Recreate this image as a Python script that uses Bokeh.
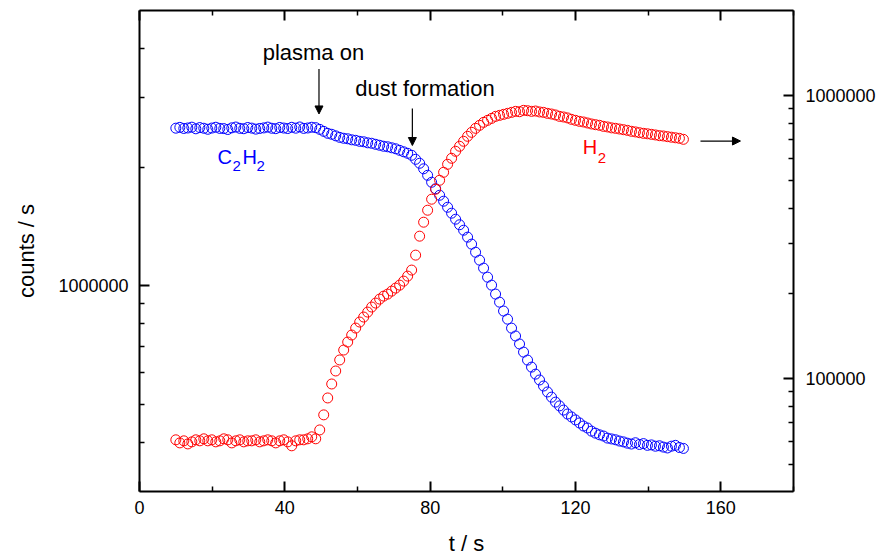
import numpy as np
from bokeh.plotting import figure
from bokeh.models import (Range1d, LogScale, LogAxis, LinearAxis, FixedTicker,
                          PrintfTickFormatter, CustomJSTickFormatter, Label, Arrow,
                          NormalHead, ColumnDataSource)
from bokeh.embed import file_html
from bokeh.resources import INLINE

# ---------------- data ----------------
t_s = [10.0, 11.1, 12.2, 13.3, 14.4, 15.5, 16.6, 17.7, 18.8, 19.9,
       21.0, 22.1, 23.2, 24.3, 25.4, 26.5, 27.6, 28.7, 29.8, 30.9,
       32.0, 33.1, 34.2, 35.3, 36.4, 37.5, 38.6, 39.7, 40.8, 41.9,
       43.0, 44.1, 45.2, 46.3, 47.4, 48.5, 49.6, 50.7, 51.8, 52.9,
       54.0, 55.1, 56.2, 57.3, 58.4, 59.5, 60.6, 61.7, 62.8, 63.9,
       65.0, 66.1, 67.2, 68.3, 69.4, 70.5, 71.6, 72.7, 73.8, 74.9,
       76.0, 77.1, 78.2, 79.3, 80.4, 81.5, 82.6, 83.7, 84.8, 85.9,
       87.0, 88.1, 89.2, 90.3, 91.4, 92.5, 93.6, 94.7, 95.8, 96.9,
       98.0, 99.1, 100.2, 101.3, 102.4, 103.5, 104.6, 105.7, 106.8, 107.9,
       109.0, 110.1, 111.2, 112.3, 113.4, 114.5, 115.6, 116.7, 117.8, 118.9,
       120.0, 121.1, 122.2, 123.3, 124.4, 125.5, 126.6, 127.7, 128.8, 129.9,
       131.0, 132.1, 133.2, 134.3, 135.4, 136.5, 137.6, 138.7, 139.8, 140.9,
       142.0, 143.1, 144.2, 145.3, 146.4, 147.5, 148.6, 149.7]

# C2H2 signal, thousands of counts / s (left axis)
c2h2_kcounts = [2512, 2524, 2508, 2515, 2527, 2503, 2521, 2511, 2496, 2514,
                2526, 2509, 2506, 2493, 2517, 2529, 2510, 2504, 2522, 2513,
                2498, 2508, 2516, 2528, 2511, 2505, 2523, 2514, 2507, 2525,
                2512, 2530, 2509, 2515, 2526, 2520, 2495, 2466, 2438, 2424,
                2402, 2381, 2368, 2361, 2347, 2340, 2326, 2320, 2306, 2300,
                2286, 2273, 2260, 2253, 2240, 2227, 2207, 2188, 2169, 2144,
                2094, 2046, 1981, 1907, 1831, 1763, 1697, 1639, 1582, 1528,
                1475, 1428, 1383, 1328, 1275, 1216, 1161, 1108, 1051, 1003,
                952, 908, 862, 822, 780, 745, 711, 678, 647, 621,
                596, 576, 556, 537, 521, 506, 495, 483, 472, 464,
                456, 448, 440, 435, 427, 422, 418, 415, 410, 408,
                406, 403, 401, 398, 396, 399, 395, 397, 393, 394,
                391, 392, 389, 387, 391, 393, 388, 386]

# H2 signal, thousands of counts / s (right axis)
h2_kcounts = [60.9, 59.4, 60.4, 58.9, 59.9, 60.9, 60.4, 61.4, 60.4, 60.9,
              59.9, 60.4, 61.4, 60.9, 59.4, 60.4, 60.9, 59.9, 60.4, 60.4,
              60.9, 59.9, 60.4, 60.9, 60.4, 59.4, 60.4, 60.9, 59.9, 58.0,
              60.4, 60.9, 60.9, 61.4, 62.4, 61.4, 66.0, 74.6, 85.6, 95.9,
              106.6, 116.6, 126.4, 134.9, 142.8, 151.1, 158.7, 165.3, 172.1, 179.3,
              185.2, 191.3, 196.0, 199.2, 204.1, 209.2, 214.3, 221.4, 230.6, 242.2,
              273.5, 319.1, 357.5, 394.1, 431.0, 467.4, 502.8, 536.6, 572.7, 601.2,
              636.4, 662.9, 690.3, 718.9, 742.6, 767.2, 786.2, 805.4, 818.6, 831.8,
              845.6, 852.4, 859.5, 866.5, 873.5, 880.6, 878.0, 887.9, 885.2, 880.6,
              883.1, 876.4, 873.5, 866.5, 861.8, 855.2, 845.6, 841.3, 834.9, 825.2,
              818.6, 811.9, 807.7, 801.2, 794.8, 790.1, 786.2, 779.5, 775.8, 770.1,
              767.2, 762.9, 758.6, 754.6, 748.7, 745.0, 740.3, 736.5, 733.8, 730.6,
              726.9, 722.5, 720.8, 716.9, 713.7, 710.4, 707.3, 701.5]

x_major_ticks = [0, 40, 80, 120, 160]
x_minor_ticks = [20, 60, 100, 140, 180]
left_major_ticks = [1e6]
left_minor_ticks = [4e5, 5e5, 6e5, 7e5, 8e5, 9e5, 2e6, 3e6, 4e6]
right_major_ticks = [1e5, 1e6]
right_minor_ticks = [5e4, 6e4, 7e4, 8e4, 9e4, 2e5, 3e5, 4e5, 5e5, 6e5, 7e5, 8e5, 9e5]

# ---------------- figure ----------------
FONT = "Liberation Sans"

p = figure(width=892, height=558, title=None,
           x_range=Range1d(0, 180), y_range=Range1d(3e5, 5e6),
           y_axis_type="log", output_backend="svg", toolbar_location=None,
           min_border_left=139, min_border_right=99,
           min_border_top=10, min_border_bottom=66)
p.background_fill_color = "white"
p.border_fill_color = "white"
p.outline_line_color = None
p.xgrid.visible = False
p.ygrid.visible = False

p.extra_y_ranges = {"right": Range1d(4e4, 2e6)}
p.extra_y_scales = {"right": LogScale()}


def style_axis(ax):
    ax.axis_line_width = 2
    ax.axis_line_color = "black"
    ax.major_tick_in = 10
    ax.major_tick_out = 0
    ax.minor_tick_in = 5
    ax.minor_tick_out = 0
    ax.major_tick_line_width = 2
    ax.minor_tick_line_width = 1.5
    ax.major_tick_line_color = "black"
    ax.minor_tick_line_color = "black"
    ax.major_label_text_font = FONT
    ax.major_label_text_font_size = "18px"
    ax.major_label_text_color = "black"
    ax.axis_label_text_font = FONT
    ax.axis_label_text_font_size = "22px"
    ax.axis_label_text_font_style = "normal"
    ax.axis_label_text_color = "black"


xax = p.xaxis[0]
xax.ticker = FixedTicker(ticks=x_major_ticks, minor_ticks=x_minor_ticks)
xax.axis_label = "t / s"
style_axis(xax)
xax.major_label_standoff = 9
xax.axis_label_standoff = 14

yax = p.yaxis[0]
yax.ticker = FixedTicker(ticks=left_major_ticks, minor_ticks=left_minor_ticks)
yax.formatter = PrintfTickFormatter(format="%d")
yax.axis_label = "counts / s"
style_axis(yax)
yax.major_label_standoff = 11
yax.axis_label_standoff = 16

rax = LogAxis(y_range_name="right",
              ticker=FixedTicker(ticks=right_major_ticks, minor_ticks=right_minor_ticks),
              formatter=PrintfTickFormatter(format="%d"))
style_axis(rax)
rax.major_label_standoff = 12
p.add_layout(rax, "right")

# top frame edge with inward ticks, no labels
tax = LinearAxis(ticker=FixedTicker(ticks=x_major_ticks, minor_ticks=x_minor_ticks),
                 formatter=CustomJSTickFormatter(code="return '';"))
style_axis(tax)
tax.major_label_standoff = 0
p.add_layout(tax, "above")

# ---------------- data marks ----------------
src = ColumnDataSource(dict(
    t=t_s,
    c2h2=np.array(c2h2_kcounts, dtype=float) * 1000.0,
    h2=np.array(h2_kcounts, dtype=float) * 1000.0,
))

p.scatter("t", "c2h2", source=src, marker="circle", size=10,
          fill_color=None, line_color="#0000ff", line_width=1)
p.scatter("t", "h2", source=src, marker="circle", size=10,
          fill_color=None, line_color="#ff0000", line_width=1,
          y_range_name="right")

# ---------------- annotations ----------------
LIFT = 9  # screen px

def add_label(x, y, text, color, size, x_off=0, y_off=0):
    p.add_layout(Label(x=x, y=y, text=text, text_color=color,
                       text_font=FONT, text_font_size=f"{size}px",
                       x_offset=x_off, y_offset=y_off + LIFT,
                       text_baseline="alphabetic", text_align="left"))

add_label(33.9, 3.70e6, "plasma on", "black", 22)
add_label(59.4, 3.01e6, "dust formation", "black", 22)

# C2H2 with subscripts
add_label(21.5, 2.01e6, "C", "#0000ff", 20)
add_label(21.5, 2.01e6, "2", "#0000ff", 15, x_off=15, y_off=-9)
add_label(21.5, 2.01e6, "H", "#0000ff", 20, x_off=25)
add_label(21.5, 2.01e6, "2", "#0000ff", 15, x_off=39, y_off=-9)

# H2 with subscript
add_label(122.0, 2.13e6, "H", "#ff0000", 20)
add_label(122.0, 2.13e6, "2", "#ff0000", 15, x_off=15, y_off=-11)

def add_arrow(x0, y0, x1, y1):
    p.add_layout(Arrow(end=NormalHead(size=8, fill_color="black", line_color="black", line_width=1),
                       x_start=x0, y_start=y0, x_end=x1, y_end=y1,
                       line_color="black", line_width=1.2))

add_arrow(49.4, 3.55e6, 49.4, 2.73e6)
add_arrow(75.1, 2.82e6, 75.1, 2.27e6)
add_arrow(154.4, 2.33e6, 165.4, 2.33e6)

open("out.html", "w").write(file_html(p, INLINE))
